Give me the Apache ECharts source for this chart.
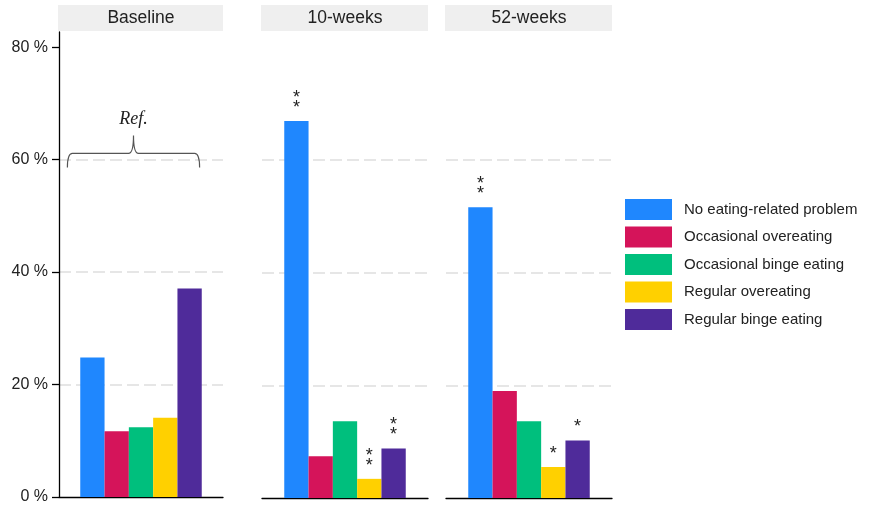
<!DOCTYPE html>
<html>
<head>
<meta charset="utf-8">
<script src="https://cdn.jsdelivr.net/npm/echarts@6/dist/echarts.min.js"></script>
<style>html,body{margin:0;padding:0;background:#fff}#c{width:870px;height:505px}</style>
</head>
<body>
<div id="c"></div>
<script>
const panels = ['Baseline', '10-weeks', '52-weeks'];
const categories = ['No eating-related problem', 'Occasional overeating', 'Occasional binge eating', 'Regular overeating', 'Regular binge eating'];
const baseline = [24.8, 11.7, 12.4, 14.1, 37.1];
const weeks10 = [66.9, 7.4, 13.6, 3.4, 8.8];
const weeks52 = [51.6, 19.0, 13.6, 5.5, 10.2];
const sigBaseline = ['', '', '', '', ''];
const sig10 = ['**', '', '', '**', '**'];
const sig52 = ['**', '', '', '*', '*'];
const yTicks = [0, 20, 40, 60, 80];
const refLabel = 'Ref.';

const values = [baseline, weeks10, weeks52];
const sigs = [sigBaseline, sig10, sig52];
const colors = ['#1f87fe', '#d5145a', '#00bf7d', '#ffd000', '#4f2b9a'];
const FONT = "'Liberation Sans', Arial, sans-serif";
const layout = [{left: 59, width: 164}, {left: 262, width: 166}, {left: 446, width: 166}];
const TOP = 32, BOTTOM = 7, YMAX = 82.7;
const BARW = 24.3;

const chart = echarts.init(document.getElementById('c'));

const grids = layout.map(l => ({left: l.left, width: l.width, top: TOP, bottom: BOTTOM, containLabel: false}));
const xAxes = panels.map((p, i) => ({
  type: 'category', gridIndex: i, data: [p],
  axisLine: {show: true, lineStyle: {color: '#000', width: 1.3}},
  axisTick: {show: false}, axisLabel: {show: false}, splitLine: {show: false}
}));
const yAxes = panels.map((p, i) => ({
  type: 'value', gridIndex: i, min: 0, max: YMAX, interval: 20,
  axisLine: {show: i === 0, lineStyle: {color: '#000', width: 1.3}},
  axisTick: {show: i === 0, length: 7, lineStyle: {color: '#000', width: 1.3}, customValues: yTicks},
  axisLabel: {show: i === 0, customValues: yTicks, formatter: v => v + ' %', fontFamily: FONT, fontSize: 16, color: '#222', margin: 11},
  splitLine: {show: true, showMinLine: false, showMaxLine: false, lineStyle: {color: '#e6e6e6', width: 2, type: [12, 5]}}
}));

const series = [];
panels.forEach((p, i) => {
  categories.forEach((c, k) => {
    const s = sigs[i][k];
    series.push({
      type: 'bar', name: c, xAxisIndex: i, yAxisIndex: i,
      data: [values[i][k]], barWidth: BARW, barGap: '0%',
      itemStyle: {color: colors[k]},
      emphasis: {disabled: true},
      label: {
        show: s !== '', position: 'top', distance: 8,
        formatter: s.split('').join('\n'),
        fontFamily: FONT, fontSize: 18, lineHeight: 10, color: '#222'
      }
    });
  });
});

// Reference brace over the baseline panel
series.push({
  type: 'custom', xAxisIndex: 0, yAxisIndex: 0, silent: true, z: 5,
  data: [[0, 60]],
  renderItem: function (params, api) {
    const c = api.coord([0, 60]);
    const cx = c[0];
    const L = cx - 2 * BARW - 25, R = cx + 2 * BARW + 10, M = (L + R) / 2;
    const yH = api.coord([0, 61.1])[1];
    const yE = api.coord([0, 58.6])[1];
    const yP = api.coord([0, 64.3])[1];
    const yT = api.coord([0, 67.1])[1];
    const r = 5;
    const path = `M${L},${yE} Q${L},${yH} ${L + r},${yH} L${M - r},${yH} Q${M},${yH} ${M},${yP} Q${M},${yH} ${M + r},${yH} L${R - r},${yH} Q${R},${yH} ${R},${yE}`;
    return {
      type: 'group',
      children: [
        {type: 'path', shape: {pathData: path}, style: {fill: 'none', stroke: '#555', lineWidth: 1.2}},
        {type: 'text', style: {x: M, y: yT, text: refLabel, fontFamily: "'Liberation Serif', 'DejaVu Serif', serif", fontStyle: 'italic', fontSize: 18, fill: '#222', align: 'center', verticalAlign: 'middle'}}
      ]
    };
  }
});

const graphic = [];
layout.forEach((l, i) => {
  graphic.push({type: 'rect', left: l.left - 1, top: 5, shape: {width: l.width + 1, height: 26}, style: {fill: '#efefef'}, silent: true});
  graphic.push({type: 'text', x: l.left + l.width / 2, y: 18.5, style: {text: panels[i], fontFamily: FONT, fontSize: 17.5, fill: '#222', align: 'center', verticalAlign: 'middle'}, silent: true});
});

chart.setOption({
  animation: false,
  grid: grids, xAxis: xAxes, yAxis: yAxes, series: series, graphic: graphic,
  legend: {
    orient: 'vertical', left: 625, top: 199, padding: 0, itemWidth: 47, itemHeight: 21, itemGap: 6.5,
    icon: 'rect', data: categories, selectedMode: false,
    textStyle: {fontFamily: FONT, fontSize: 15, color: '#222', padding: [0, 0, 0, 7]}
  }
});
</script>
</body>
</html>
